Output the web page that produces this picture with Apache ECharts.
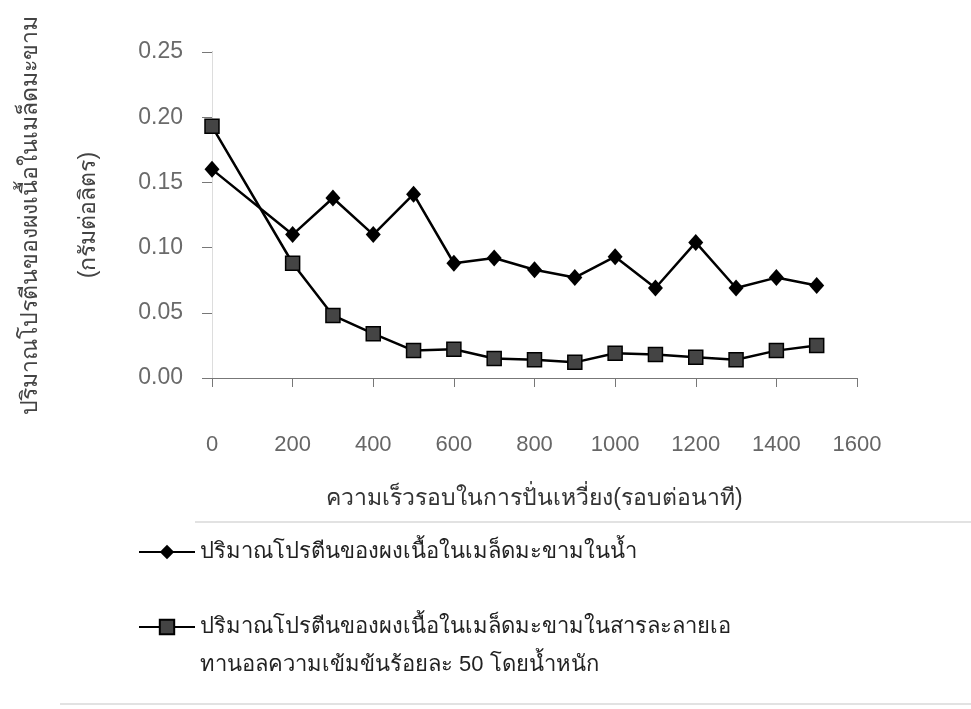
<!DOCTYPE html>
<html>
<head>
<meta charset="utf-8">
<script src="https://cdn.jsdelivr.net/npm/echarts@6/dist/echarts.min.js"></script>
<style>
  html, body { margin: 0; padding: 0; background: #fff; }
  #chart { width: 971px; height: 709px; }
</style>
</head>
<body>
<div id="chart"></div>
<script>
// rotation speed (rpm)
const speeds = [0, 200, 300, 400, 500, 600, 700, 800, 900, 1000, 1100, 1200, 1300, 1400, 1500]
// protein (g/L) in water
const proteinWater = [0.160, 0.110, 0.138, 0.110, 0.141, 0.088, 0.092, 0.083, 0.077, 0.093, 0.069, 0.104, 0.069, 0.077, 0.071]
// protein (g/L) in 50% ethanol
const proteinEthanol = [0.193, 0.088, 0.048, 0.034, 0.021, 0.022, 0.015, 0.014, 0.012, 0.019, 0.018, 0.016, 0.014, 0.021, 0.025]

const seriesNames = [
  'ปริมาณโปรตีนของผงเนื้อในเมล็ดมะขามในน้ำ',
  'ปริมาณโปรตีนของผงเนื้อในเมล็ดมะขามในสารละลายเอ\nทานอลความเข้มข้นร้อยละ 50 โดยน้ำหนัก'
]
const xName = 'ความเร็วรอบในการปั่นเหวี่ยง(รอบต่อนาที)'
const yName = 'ปริมาณโปรตีนของผงเนื้อในเมล็ดมะขาม\n(กรัมต่อลิตร)'

const font = 'Liberation Sans, Noto Sans, DejaVu Sans, sans-serif'
const chart = echarts.init(document.getElementById('chart'))

const legendBase = {
  orient: 'vertical',
  left: 138,
  padding: 0,
  itemWidth: 56,
  itemHeight: 18,
  textStyle: { fontSize: 22, color: '#222', lineHeight: 38 }
}

const option = {
  animation: false,
  textStyle: { fontFamily: font },
  grid: { left: 212, right: 114, top: 52, bottom: 331, containLabel: false, outerBoundsMode: 'none' },
  // faint scan lines of the original page
  graphic: [
    { type: 'line', shape: { x1: 195, y1: 522, x2: 971, y2: 522 }, style: { stroke: '#e2e2e2', lineWidth: 2 }, silent: true },
    { type: 'line', shape: { x1: 60, y1: 704, x2: 971, y2: 704 }, style: { stroke: '#e2e2e2', lineWidth: 2 }, silent: true }
  ],
  legend: [
    Object.assign({}, legendBase, { top: 533, data: [seriesNames[0]] }),
    Object.assign({}, legendBase, {
      top: 570,
      data: [seriesNames[1]],
      // blank first line so the icon sits beside the first text line
      formatter: name => '\n' + name
    })
  ],
  xAxis: [
    {
      type: 'value',
      min: 0,
      max: 1600,
      interval: 200,
      name: xName,
      nameLocation: 'middle',
      nameGap: 109,
      nameTextStyle: { fontSize: 23, color: '#333' },
      axisLine: { lineStyle: { color: '#777', width: 1 } },
      axisTick: { length: 9, lineStyle: { color: '#777' } },
      axisLabel: { fontSize: 22, color: '#666', margin: 56, formatter: v => String(v) },
      splitLine: { show: false }
    },
    {
      type: 'value',
      position: 'top',
      min: 0,
      max: 1600,
      axisLine: { show: true, lineStyle: { color: '#777', width: 1 } },
      axisTick: { show: false },
      axisLabel: { show: false },
      splitLine: { show: false }
    }
  ],
  yAxis: [
    {
      type: 'value',
      min: 0,
      max: 0.25,
      interval: 0.05,
      name: yName,
      nameLocation: 'middle',
      nameRotate: 90,
      nameGap: 94,
      nameTextStyle: { fontSize: 23, color: '#444', lineHeight: 58 },
      axisLine: { show: true, lineStyle: { color: '#777', width: 1 } },
      axisTick: { show: true, length: 10, lineStyle: { color: '#777' } },
      axisLabel: {
        fontSize: 23,
        color: '#6a6a6a',
        margin: 29,
        formatter: v => v.toFixed(2)
      },
      splitLine: { show: false }
    },
    {
      type: 'value',
      position: 'right',
      min: 0,
      max: 0.25,
      axisLine: { show: true, lineStyle: { color: '#ddd', width: 1 } },
      axisTick: { show: false },
      axisLabel: { show: false },
      splitLine: { show: false }
    }
  ],
  series: [
    {
      name: seriesNames[0],
      type: 'line',
      data: speeds.map((s, i) => [s, proteinWater[i]]),
      symbol: 'diamond',
      symbolSize: [15, 17],
      itemStyle: { color: '#000' },
      lineStyle: { color: '#000', width: 2.5 }
    },
    {
      name: seriesNames[1],
      type: 'line',
      data: speeds.map((s, i) => [s, proteinEthanol[i]]),
      symbol: 'rect',
      symbolSize: 14,
      itemStyle: { color: '#444', borderColor: '#000', borderWidth: 1.5 },
      lineStyle: { color: '#000', width: 2.5 }
    }
  ]
}

chart.setOption(option)
</script>
</body>
</html>
